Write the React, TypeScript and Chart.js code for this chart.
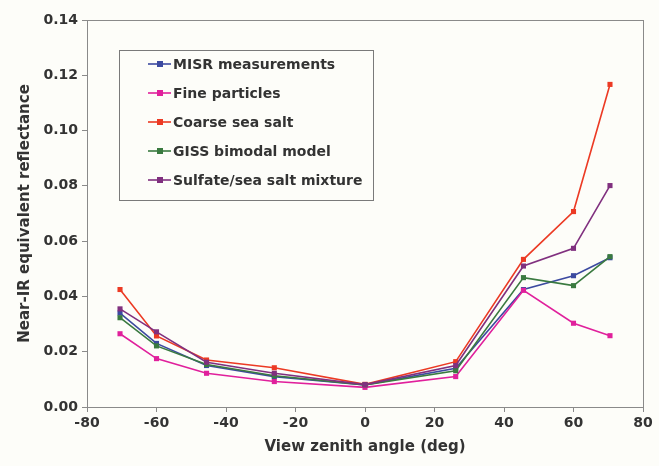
import React, { useEffect, useRef } from "react";
import { Chart, registerables } from "chart.js";

Chart.register(...registerables);

const viewAngles = [-70.5, -60, -45.6, -26.1, 0, 26.1, 45.6, 60, 70.5];

const misrMeasurements = [0.034, 0.023, 0.015, 0.011, 0.008, 0.014, 0.0425, 0.0475, 0.054];
const fineParticles = [0.0265, 0.0175, 0.0122, 0.0092, 0.0071, 0.011, 0.0422, 0.0303, 0.0258];
const coarseSeaSalt = [0.0425, 0.0257, 0.017, 0.0142, 0.0082, 0.0164, 0.0534, 0.0707, 0.1167];
const gissBimodal = [0.0323, 0.0221, 0.0154, 0.0113, 0.008, 0.0131, 0.0468, 0.0439, 0.0544];
const sulfateMixture = [0.0355, 0.0272, 0.0162, 0.0122, 0.0081, 0.015, 0.051, 0.0574, 0.0801];

const seriesLabels = [
  "MISR measurements",
  "Fine particles",
  "Coarse sea salt",
  "GISS bimodal model",
  "Sulfate/sea salt mixture",
];
const seriesColors = ["#3c4aa0", "#e0209c", "#ec3a24", "#3a7a40", "#80307f"];
const seriesValues = [misrMeasurements, fineParticles, coarseSeaSalt, gissBimodal, sulfateMixture];

const FONT = "'DejaVu Sans', sans-serif";
const TEXT = "#333333";
const BG = "#fdfdf9";

const framePlugin = {
  id: "frameAndLegend",
  beforeDraw(chart: any) {
    const { ctx, width, height } = chart;
    ctx.save();
    ctx.fillStyle = BG;
    ctx.fillRect(0, 0, width, height);
    ctx.restore();
  },
  afterDraw(chart: any) {
    const { ctx, chartArea } = chart;
    ctx.save();
    ctx.strokeStyle = "#8a8a8a";
    ctx.lineWidth = 1;
    ctx.strokeRect(chartArea.left + 0.5, chartArea.top + 0.5, chartArea.right - chartArea.left, chartArea.bottom - chartArea.top);

    // legend box
    const bx = 119, by = 50, bw = 254, bh = 150;
    ctx.fillStyle = BG;
    ctx.fillRect(bx, by, bw, bh);
    ctx.strokeStyle = "#7a7a7a";
    ctx.strokeRect(bx + 0.5, by + 0.5, bw, bh);
    ctx.font = `bold 14px ${FONT}`;
    ctx.textBaseline = "middle";
    ctx.textAlign = "left";
    chart.data.datasets.forEach((ds: any, i: number) => {
      const y = 64 + i * 29;
      ctx.strokeStyle = ds.borderColor;
      ctx.lineWidth = 1.6;
      ctx.beginPath();
      ctx.moveTo(148, y);
      ctx.lineTo(171, y);
      ctx.stroke();
      ctx.fillStyle = ds.borderColor;
      ctx.fillRect(157, y - 3, 6, 6);
      ctx.fillStyle = TEXT;
      ctx.fillText(ds.label, 173, y + 1);
    });
    ctx.restore();
  },
};

export default function App() {
  const ref = useRef<HTMLCanvasElement>(null);

  useEffect(() => {
    if (!ref.current) return;
    const datasets = seriesLabels.map((label, i) => ({
      label,
      data: viewAngles.map((x, j) => ({ x, y: seriesValues[i][j] })),
      borderColor: seriesColors[i],
      backgroundColor: seriesColors[i],
      borderWidth: 1.6,
      pointStyle: "rect" as const,
      pointRadius: 3.6,
      pointBorderWidth: 0,
      tension: 0,
      order: 4 - i,
    }));
    const chart = new Chart(ref.current, {
      type: "line",
      data: { datasets },
      options: {
        animation: false,
        responsive: false,
        maintainAspectRatio: false,
        layout: { padding: { top: 20, right: 16, left: 0, bottom: 0 } },
        plugins: { legend: { display: false }, tooltip: { enabled: false } },
        scales: {
          x: {
            type: "linear",
            min: -80,
            max: 80,
            afterFit: (s: any) => {
              s.height = 59;
            },
            ticks: { stepSize: 20, color: TEXT, font: { family: FONT, size: 14, weight: "bold" }, padding: 3, maxRotation: 0 },
            grid: { drawOnChartArea: false, drawTicks: true, tickLength: 5, color: "#8a8a8a" },
            border: { display: true, color: "#8a8a8a" },
            title: {
              display: true,
              text: "View zenith angle (deg)",
              color: TEXT,
              font: { family: FONT, size: 15, weight: "bold" },
              padding: { top: 0, bottom: 10 },
            },
          },
          y: {
            type: "linear",
            min: 0,
            max: 0.14,
            afterFit: (s: any) => {
              s.width = 87;
            },
            ticks: {
              stepSize: 0.02,
              color: TEXT,
              font: { family: FONT, size: 14, weight: "bold" },
              padding: 4,
              callback: (v: any) => Number(v).toFixed(2),
            },
            grid: { drawOnChartArea: false, drawTicks: true, tickLength: 5, color: "#8a8a8a" },
            border: { display: true, color: "#8a8a8a" },
            title: {
              display: true,
              text: "Near-IR equivalent reflectance",
              color: TEXT,
              font: { family: FONT, size: 15, weight: "bold" },
              padding: { top: 16, bottom: 0 },
            },
          },
        },
      },
      plugins: [framePlugin],
    });
    return () => chart.destroy();
  }, []);

  return (
    <div style={{ position: "fixed", left: 0, top: 0, width: 659, height: 466, background: BG }}>
      <canvas ref={ref} width={659} height={466} style={{ display: "block", width: 659, height: 466 }} />
    </div>
  );
}
